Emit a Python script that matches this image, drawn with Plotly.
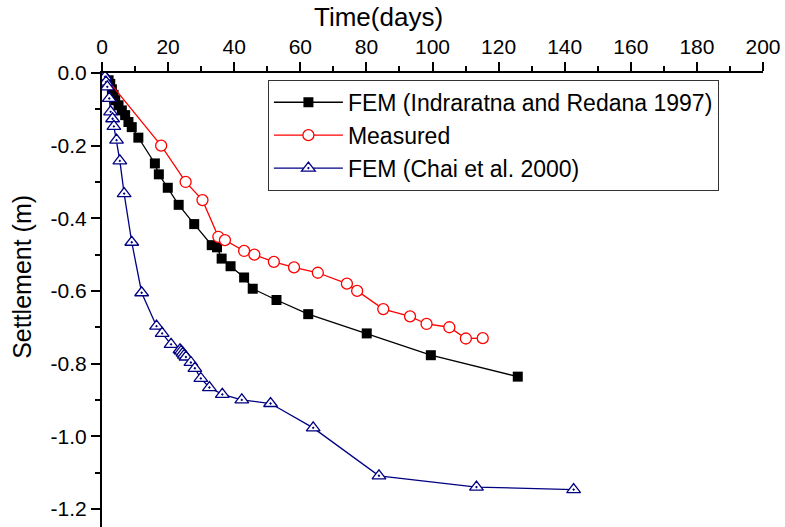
import plotly.graph_objects as go

# FEM prediction (Indraratna and Redana 1997)
fem_ir_days = [2.0, 2.5, 3.0, 3.5, 4.0, 5.0, 6.0, 7.0, 8.0, 9.0, 11.0, 16.0, 17.2,
               19.9, 23.2, 27.9, 33.2, 34.8, 36.2, 38.9, 43.0, 45.6, 52.8, 62.4,
               80.1, 99.5, 125.8]
fem_ir_settle = [-0.02, -0.03, -0.045, -0.06, -0.075, -0.089, -0.103, -0.116, -0.135,
                 -0.149, -0.178, -0.249, -0.279, -0.316, -0.363, -0.416, -0.474,
                 -0.480, -0.511, -0.532, -0.563, -0.594, -0.625, -0.664, -0.717,
                 -0.777, -0.836]

# Field measurements
meas_days = [0.0, 17.9, 25.3, 30.4, 35.2, 37.2, 43.0, 46.1, 52.0, 58.1, 65.3, 74.1,
             77.2, 85.1, 93.2, 98.2, 105.1, 110.1, 115.2]
meas_settle = [0.0, -0.20, -0.30, -0.35, -0.451, -0.46, -0.49, -0.50, -0.52, -0.535,
               -0.55, -0.58, -0.60, -0.65, -0.67, -0.691, -0.70, -0.731, -0.73]

# FEM prediction (Chai et al. 2000)
fem_chai_days = [0.5, 0.9, 1.2, 1.6, 2.2, 2.6, 3.2, 3.6, 4.4, 5.4, 6.7, 9.0, 12.0,
                 16.5, 18.2, 20.9, 23.6, 24.0, 24.5, 24.9, 25.4, 26.9, 28.1, 29.9,
                 32.5, 36.4, 42.3, 51.0, 63.9, 83.8, 113.3, 142.7]
fem_chai_settle = [-0.005, -0.011, -0.025, -0.038, -0.07, -0.107, -0.126, -0.147,
                   -0.185, -0.242, -0.332, -0.466, -0.605, -0.697, -0.717, -0.747,
                   -0.762, -0.766, -0.771, -0.777, -0.782, -0.797, -0.813, -0.841,
                   -0.866, -0.885, -0.900, -0.910, -0.977, -1.109, -1.140, -1.147]

x_ticks = [0, 20, 40, 60, 80, 100, 120, 140, 160, 180, 200]
y_tickvals = [0.0, -0.2, -0.4, -0.6, -0.8, -1.0, -1.2]
y_ticktext = ["0.0", "-0.2", "-0.4", "-0.6", "-0.8", "-1.0", "-1.2"]

FONT = "Liberation Sans, Arial, sans-serif"
NAVY = "#000080"

fig = go.Figure()

fig.add_trace(go.Scatter(
    x=fem_ir_days, y=fem_ir_settle, mode="lines+markers",
    name="FEM (Indraratna and Redana 1997)",
    line=dict(color="black", width=1.3),
    marker=dict(symbol="square", size=10, color="black"),
))
fig.add_trace(go.Scatter(
    x=meas_days, y=meas_settle, mode="lines+markers",
    name="Measured",
    line=dict(color="#ff0000", width=1.3),
    marker=dict(symbol="circle", size=11, color="white",
                line=dict(color="#ff0000", width=1.3)),
))
fig.add_trace(go.Scatter(
    x=fem_chai_days, y=fem_chai_settle, mode="lines+markers",
    name="FEM (Chai et al. 2000)",
    line=dict(color=NAVY, width=1.3),
    marker=dict(symbol="triangle-up-dot", size=12, color="white",
                line=dict(color=NAVY, width=1.3)),
))

fig.update_layout(
    width=785, height=527,
    margin=dict(l=102, r=22, t=73, b=0),
    paper_bgcolor="white", plot_bgcolor="white",
    font=dict(family=FONT, color="black"),
    showlegend=True,
    legend=dict(
        x=0.251, y=0.985, xanchor="left", yanchor="top",
        bgcolor="white", bordercolor="#333333", borderwidth=1,
        font=dict(family=FONT, size=23, color="black"),
        itemwidth=69, tracegroupgap=0,
    ),
    xaxis=dict(
        side="top", range=[0, 200], tickvals=x_ticks,
        showgrid=False, zeroline=False,
        showline=True, linecolor="black", linewidth=2,
        ticks="outside", ticklen=9, tickwidth=2, tickcolor="black",
        tickfont=dict(family=FONT, size=21),
        minor=dict(dtick=10, ticks="outside", ticklen=5, tickwidth=2,
                   tickcolor="black", showgrid=False),
    ),
    yaxis=dict(
        range=[-1.25, 0], tickvals=y_tickvals, ticktext=y_ticktext,
        showgrid=False, zeroline=False,
        showline=True, linecolor="black", linewidth=2,
        ticks="outside", ticklen=9, tickwidth=2, tickcolor="black",
        tickfont=dict(family=FONT, size=21),
        minor=dict(tickvals=[-0.1, -0.3, -0.5, -0.7, -0.9, -1.1],
                   ticks="outside", ticklen=5, tickwidth=2,
                   tickcolor="black", showgrid=False),
    ),
    annotations=[
        dict(text="Time(days)", xref="paper", yref="paper",
             x=0.4176, y=1.124, xanchor="center", yanchor="middle",
             showarrow=False, font=dict(family=FONT, size=26)),
        dict(text="Settlement (m)", xref="paper", yref="paper",
             x=-0.121, y=0.551, xanchor="center", yanchor="middle",
             textangle=-90, showarrow=False, font=dict(family=FONT, size=25)),
    ],
)

fig.write_html("out.html")
